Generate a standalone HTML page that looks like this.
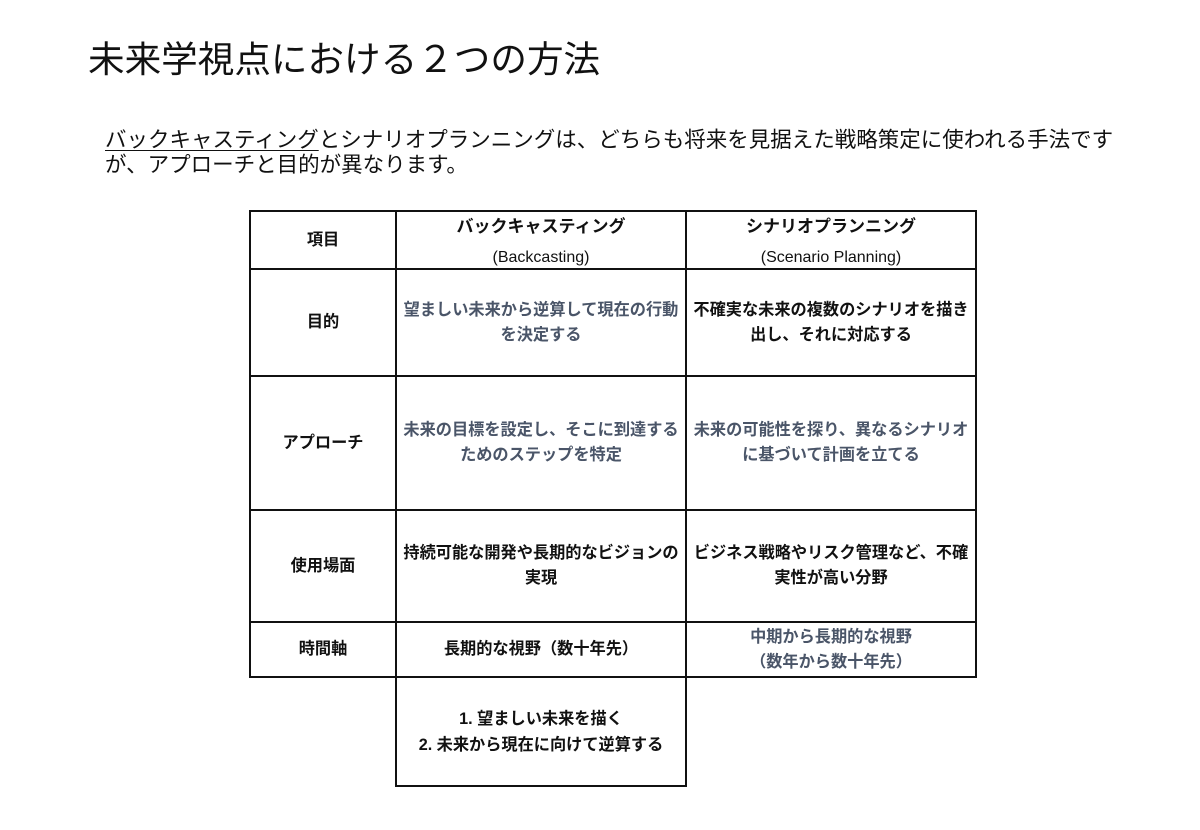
<!DOCTYPE html>
<html><head><meta charset="utf-8"><style>
body{margin:0;width:1200px;height:830px;background:#fff;position:relative;font-family:"Liberation Sans","Noto Sans CJK JP",sans-serif;color:#111;overflow:hidden}
.t{position:absolute;left:88px;top:30px;font-size:36.6px;white-space:nowrap;font-weight:400}
.p{position:absolute;left:105px;top:128px;font-size:21.5px;line-height:25px;white-space:nowrap}
.p u{text-decoration-thickness:1px;text-underline-offset:3px}
.c{position:absolute;border:2px solid #111;box-sizing:border-box;display:flex;align-items:center;justify-content:center;text-align:center;font-size:16.2px;font-weight:bold;line-height:25px;white-space:nowrap}
.g{color:#4a5568}
</style></head><body>
<div class="t">未来学視点における２つの方法</div>
<div class="p"><u>バックキャスティング</u>とシナリオプランニングは、どちらも将来を見据えた戦略策定に使われる手法です<br>が、アプローチと目的が異なります。</div>

<div class="c" style="left:249px;top:210px;width:148px;height:60px">項目</div>
<div class="c" style="left:395px;top:210px;width:292px;height:60px;line-height:30px;padding-top:5px;font-size:17px"><span>バックキャスティング<br><span style="font-weight:normal;font-size:16px">(Backcasting)</span></span></div>
<div class="c" style="left:685px;top:210px;width:292px;height:60px;line-height:30px;padding-top:5px;font-size:17px"><span>シナリオプランニング<br><span style="font-weight:normal;font-size:16px">(Scenario Planning)</span></span></div>

<div class="c" style="left:249px;top:268px;width:148px;height:109px">目的</div>
<div class="c g" style="left:395px;top:268px;width:292px;height:109px">望ましい未来から逆算して現在の行動<br>を決定する</div>
<div class="c" style="left:685px;top:268px;width:292px;height:109px">不確実な未来の複数のシナリオを描き<br>出し、それに対応する</div>

<div class="c" style="left:249px;top:375px;width:148px;height:136px">アプローチ</div>
<div class="c g" style="left:395px;top:375px;width:292px;height:136px">未来の目標を設定し、そこに到達する<br>ためのステップを特定</div>
<div class="c g" style="left:685px;top:375px;width:292px;height:136px">未来の可能性を探り、異なるシナリオ<br>に基づいて計画を立てる</div>

<div class="c" style="left:249px;top:509px;width:148px;height:114px">使用場面</div>
<div class="c" style="left:395px;top:509px;width:292px;height:114px">持続可能な開発や長期的なビジョンの<br>実現</div>
<div class="c" style="left:685px;top:509px;width:292px;height:114px">ビジネス戦略やリスク管理など、不確<br>実性が高い分野</div>

<div class="c" style="left:249px;top:621px;width:148px;height:57px">時間軸</div>
<div class="c" style="left:395px;top:621px;width:292px;height:57px">長期的な視野（数十年先）</div>
<div class="c g" style="left:685px;top:621px;width:292px;height:57px">中期から長期的な視野<br>（数年から数十年先）</div>

<div class="c" style="left:395px;top:676px;width:292px;height:111px;line-height:26px">1. 望ましい未来を描く<br>2. 未来から現在に向けて逆算する</div>
</body></html>
